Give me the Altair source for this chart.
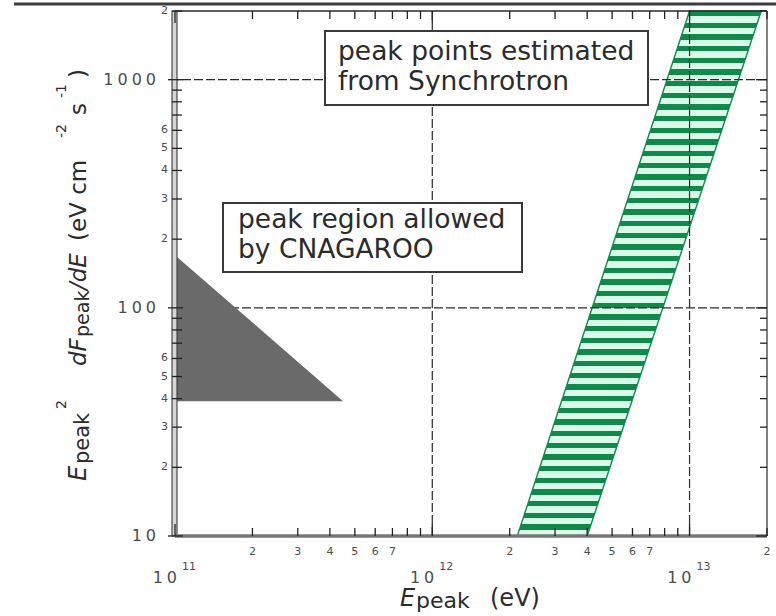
import altair as alt
import pandas as pd

# ---------------------------------------------------------------- data
X_DOMAIN = [1e11, 2e13]          # E_peak (eV)
Y_DOMAIN = [10, 2000]            # E_peak^2 dF_peak/dE (eV cm^-2 s^-1)

# synchrotron peak band: low / high E_peak edge at the bottom and top flux
band_flux = [10, 2000]
band_e_low = [2.14e12, 1.0e13]
band_e_high = [4.0e12, 1.9e13]

# CNAGAROO allowed peak region (triangle)
region_e = [1e11, 4.5e11]
region_flux_top = [170, 39]
region_flux_floor = [39, 39]

# dashed reference lines
grid_e = [1e12, 1e13]
grid_flux = [100, 1000]

# axis ticks
SP = "\u2005"
x_major = [1e11, 1e12, 1e13]
x_major_exp = ["11", "12", "13"]
x_minor = [2e11, 3e11, 4e11, 5e11, 6e11, 7e11, 8e11, 9e11,
           2e12, 3e12, 4e12, 5e12, 6e12, 7e12, 8e12, 9e12, 2e13]
x_minor_lab_val = [2e11, 3e11, 4e11, 5e11, 6e11, 7e11,
                   2e12, 3e12, 4e12, 5e12, 6e12, 7e12, 2e13]
x_minor_lab = ["2", "3", "4", "5", "6", "7",
               "2", "3", "4", "5", "6", "7", "2"]

y_major = [10, 100, 1000]
y_major_lab = [SP.join("10"), SP.join("100"), SP.join("1000")]
y_minor = [20, 30, 40, 50, 60, 70, 80, 90,
           200, 300, 400, 500, 600, 700, 800, 900, 2000]
y_minor_lab_val = [20, 30, 40, 50, 60, 200, 300, 400, 500, 600, 2000]
y_minor_lab = ["2", "3", "4", "5", "6", "2", "3", "4", "5", "6", "2"]

box1_lines = ["peak points estimated", "from Synchrotron"]
box2_lines = ["peak region allowed", "by CNAGAROO"]

# ---------------------------------------------------------------- style
W, H = 592, 525
FONT = "DejaVu Sans"
INK = "#2b2b2b"
TICK_INK = "#4d4d4d"
DARK_GREEN = "#10894b"
LIGHT_GREEN = "#dafbea"
GRAY_FILL = "#6a6a6a"

one = pd.DataFrame({"k": [0]})


def xs(field):
    return alt.X(field, type="quantitative",
                 scale=alt.Scale(type="log", domain=X_DOMAIN, nice=False),
                 axis=None)


def ys(field):
    return alt.Y(field, type="quantitative",
                 scale=alt.Scale(type="log", domain=Y_DOMAIN, nice=False),
                 axis=None)


def label(text, x, y, size, angle=0, italic=False, align="left",
          baseline="alphabetic", color=INK, line_height=None):
    kw = dict(text=text, fontSize=size, font=FONT, align=align,
              baseline=baseline, color=color,
              fontStyle="italic" if italic else "normal")
    if angle:
        kw["angle"] = angle
    if line_height:
        kw["lineHeight"] = line_height
    return alt.Chart(one).mark_text(**kw).encode(x=alt.value(x), y=alt.value(y))


def frame(x, x2, y, y2, color, width):
    return alt.Chart(one).mark_rule(color=color, strokeWidth=width).encode(
        x=alt.value(x), x2=alt.value(x2), y=alt.value(y), y2=alt.value(y2))


# ---------------------------------------------------------------- band
periods = 45
light_part = 0.53
stops = []
for k in range(periods):
    a, b, c = k / periods, (k + light_part) / periods, (k + 1) / periods
    stops += [alt.GradientStop(offset=a, color=LIGHT_GREEN),
              alt.GradientStop(offset=b, color=LIGHT_GREEN),
              alt.GradientStop(offset=b, color=DARK_GREEN),
              alt.GradientStop(offset=c, color=DARK_GREEN)]
stripes = alt.LinearGradient(gradient="linear", stops=stops,
                             x1=0, x2=0, y1=1, y2=0)

band_df = pd.DataFrame({"flux": band_flux, "e_lo": band_e_low, "e_hi": band_e_high})
band = alt.Chart(band_df).mark_area(
    orient="horizontal", fill=stripes, stroke=DARK_GREEN, strokeWidth=1.4
).encode(y=ys("flux"), x=xs("e_lo"), x2=alt.X2("e_hi"))

# ---------------------------------------------------------------- grid
grid_v = alt.Chart(pd.DataFrame({"e": grid_e})).mark_rule(
    color="#2a2a2a", strokeWidth=1.2, strokeDash=[9, 3]).encode(x=xs("e"))
grid_h = alt.Chart(pd.DataFrame({"flux": grid_flux})).mark_rule(
    color="#2a2a2a", strokeWidth=1.2, strokeDash=[9, 3]).encode(y=ys("flux"))

# ---------------------------------------------------------------- region
region_df = pd.DataFrame({"e": region_e, "top": region_flux_top,
                          "floor": region_flux_floor})
region = alt.Chart(region_df).mark_area(color=GRAY_FILL, opacity=1).encode(
    x=xs("e"), y=ys("top"), y2=alt.Y2("floor"))

# ---------------------------------------------------------------- boxes
def box(x, x2, y, y2):
    return alt.Chart(one).mark_rect(fill="white", stroke="#3a3a3a",
                                    strokeWidth=2).encode(
        x=alt.value(x), x2=alt.value(x2), y=alt.value(y), y2=alt.value(y2))


box1 = box(150, 473, 20, 94)
box1_txt = label(box1_lines, 163, 49, 26.5, line_height=30)
box2 = box(48, 347, 192, 261)
box2_txt = label(box2_lines, 63, 217, 26.5, line_height=30)

# ---------------------------------------------------------------- axes frame
left_axis = alt.Chart(one).mark_rect(fill="#d6d6d6", stroke="#3a3a3a",
                                     strokeWidth=1.1).encode(
    x=alt.value(-3), x2=alt.value(2), y=alt.value(0), y2=alt.value(H))
bottom_axis = frame(0, W, H, H, "#777777", 3.5)
top_axis = frame(0, W, 0, 0, "#2a2a2a", 1.6)
right_axis = frame(W, W, 0, H, "#2a2a2a", 1.2)
crop_line = frame(-161, 601, -7, -7, "#3c3c3c", 3)

# ---------------------------------------------------------------- ticks
xmin_df = pd.DataFrame({"e": x_minor})
xmaj_df = pd.DataFrame({"e": x_major})
ymin_df = pd.DataFrame({"flux": y_minor})
ymaj_df = pd.DataFrame({"flux": y_major})
tick_style = dict(color="#222222", strokeWidth=1.3)

ticks = [
    alt.Chart(xmin_df).mark_rule(**tick_style).encode(
        x=xs("e"), y=alt.value(H - 8), y2=alt.value(H)),
    alt.Chart(xmin_df).mark_rule(**tick_style).encode(
        x=xs("e"), y=alt.value(0), y2=alt.value(8)),
    alt.Chart(xmaj_df).mark_rule(**tick_style).encode(
        x=xs("e"), y=alt.value(H - 12), y2=alt.value(H)),
    alt.Chart(xmaj_df).mark_rule(**tick_style).encode(
        x=xs("e"), y=alt.value(0), y2=alt.value(12)),
    alt.Chart(ymin_df).mark_rule(**tick_style).encode(
        y=ys("flux"), x=alt.value(-3), x2=alt.value(7)),
    alt.Chart(ymin_df).mark_rule(**tick_style).encode(
        y=ys("flux"), x=alt.value(W - 7), x2=alt.value(W)),
    alt.Chart(ymaj_df).mark_rule(**tick_style).encode(
        y=ys("flux"), x=alt.value(-7), x2=alt.value(8)),
    alt.Chart(ymaj_df).mark_rule(**tick_style).encode(
        y=ys("flux"), x=alt.value(W - 11), x2=alt.value(W)),
]

# ---------------------------------------------------------------- tick labels
x_minor_labels = alt.Chart(pd.DataFrame({"e": x_minor_lab_val, "t": x_minor_lab})
                           ).mark_text(font=FONT, fontSize=11, color=TICK_INK,
                                       baseline="middle").encode(
    x=xs("e"), y=alt.value(H + 16), text="t:N")
x_major_df = pd.DataFrame({"e": x_major, "exp": x_major_exp})
x_major_base = alt.Chart(x_major_df).mark_text(
    text=SP.join("10"), font=FONT, fontSize=16, color=TICK_INK, align="right",
    baseline="middle", dx=2).encode(x=xs("e"), y=alt.value(H + 42))
x_major_exp_t = alt.Chart(x_major_df).mark_text(
    font=FONT, fontSize=11, color=TICK_INK, align="left", baseline="middle",
    dx=7).encode(x=xs("e"), y=alt.value(H + 31), text="exp:N")

y_major_labels = alt.Chart(pd.DataFrame({"flux": y_major, "t": y_major_lab})
                           ).mark_text(font=FONT, fontSize=16, color=TICK_INK,
                                       align="right", baseline="middle").encode(
    y=ys("flux"), x=alt.value(-19), text="t:N")
y_minor_labels = alt.Chart(pd.DataFrame({"flux": y_minor_lab_val, "t": y_minor_lab})
                           ).mark_text(font=FONT, fontSize=11, color=TICK_INK,
                                       align="right", baseline="middle").encode(
    y=ys("flux"), x=alt.value(-7), text="t:N")

# ---------------------------------------------------------------- axis titles
MAIN_X, SUB_X, SUP_X = -89, -86, -109
y_title = [
    label("E", MAIN_X, 470, 24, angle=270, italic=True),
    label("peak", SUB_X, 453, 21, angle=270),
    label("2", SUP_X, 398, 14, angle=270),
    label("dF", MAIN_X, 355, 23, angle=270, italic=True),
    label("peak", SUB_X, 326, 19, angle=270),
    label("/dE", MAIN_X, 279, 23, angle=270, italic=True),
    label("(eV  cm", MAIN_X, 230, 23, angle=270),
    label("-2", SUP_X, 127, 14, angle=270),
    label("s", MAIN_X, 104, 23, angle=270),
    label("-1", SUP_X, 87, 14, angle=270),
    label(")", MAIN_X, 67, 23, angle=270),
]
x_title = [
    label("E", 225, 595, 24, italic=True),
    label("peak", 241, 597, 22),
    label("(eV)", 315, 595, 24),
]

chart = alt.layer(
    band, grid_v, grid_h, region,
    box1, box1_txt, box2, box2_txt,
    left_axis, bottom_axis, top_axis, right_axis, crop_line,
    *ticks,
    x_minor_labels, x_major_base, x_major_exp_t, y_major_labels, y_minor_labels,
    *y_title, *x_title,
).properties(
    width=W, height=H,
    padding={"left": 175, "top": 11, "right": 9, "bottom": 80},
    autosize=alt.AutoSizeParams(type="none"),
    background="white",
).configure_view(stroke=None)

chart.save("out.html", embed_options={"renderer": "svg", "actions": False})
